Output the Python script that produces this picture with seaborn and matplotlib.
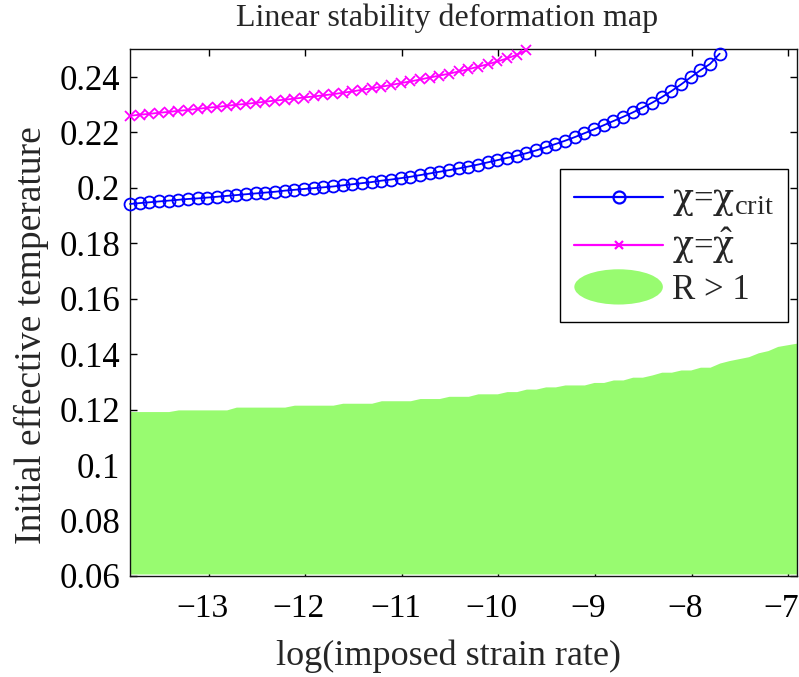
import numpy as np
import matplotlib
matplotlib.use("Agg")
import matplotlib.pyplot as plt
import matplotlib._mathtext as mathtext_core
import matplotlib.transforms as mtransforms
import seaborn as sns
from matplotlib.lines import Line2D
from matplotlib.patches import Patch, Ellipse
from matplotlib.legend_handler import HandlerPatch
from matplotlib.ticker import FuncFormatter

# strain-rate grid: natural log of imposed strain rate, 1e-6 .. 1e-3, 70 samples
log_rate = np.log(np.logspace(-6, -3, 70))

# chi = chi_crit (shown up to where it leaves the window)
chi_crit = [
    0.1942, 0.1945, 0.1948, 0.1951, 0.1954, 0.1957, 0.1960, 0.1962, 0.1965, 0.1968,
    0.1971, 0.1974, 0.1977, 0.1980, 0.1983, 0.1986, 0.1990, 0.1993, 0.1996, 0.1999,
    0.2002, 0.2005, 0.2009, 0.2013, 0.2017, 0.2021, 0.2026, 0.2030, 0.2035, 0.2040,
    0.2046, 0.2052, 0.2058, 0.2064, 0.2070, 0.2077, 0.2084, 0.2092, 0.2100, 0.2108,
    0.2116, 0.2125, 0.2135, 0.2146, 0.2158, 0.2170, 0.2183, 0.2197, 0.2211, 0.2226,
    0.2241, 0.2256, 0.2272, 0.2289, 0.2307, 0.2327, 0.2349, 0.2373, 0.2399, 0.2424,
    0.2447, 0.2484,
]

# chi = chi_hat
chi_hat = [
    0.2260, 0.2264, 0.2267, 0.2271, 0.2274, 0.2278, 0.2281, 0.2285, 0.2289, 0.2292,
    0.2296, 0.2300, 0.2303, 0.2307, 0.2311, 0.2315, 0.2318, 0.2322, 0.2326, 0.2330,
    0.2334, 0.2338, 0.2343, 0.2348, 0.2354, 0.2359, 0.2365, 0.2371, 0.2378, 0.2384,
    0.2391, 0.2398, 0.2405, 0.2412, 0.2420, 0.2428, 0.2437, 0.2446, 0.2456, 0.2467,
    0.2480, 0.2496,
]

# upper edge of the region where R > 1
r_edge = [
    0.1193, 0.1193, 0.1193, 0.1193, 0.1193, 0.1199, 0.1199, 0.1199, 0.1199, 0.1199,
    0.1199, 0.1209, 0.1209, 0.1209, 0.1209, 0.1209, 0.1209, 0.1216, 0.1216, 0.1216,
    0.1216, 0.1216, 0.1223, 0.1223, 0.1223, 0.1223, 0.1232, 0.1232, 0.1232, 0.1232,
    0.1240, 0.1240, 0.1240, 0.1248, 0.1248, 0.1248, 0.1257, 0.1257, 0.1257, 0.1265,
    0.1265, 0.1274, 0.1274, 0.1282, 0.1282, 0.1289, 0.1289, 0.1289, 0.1298, 0.1298,
    0.1307, 0.1307, 0.1317, 0.1317, 0.1325, 0.1335, 0.1335, 0.1343, 0.1343, 0.1353,
    0.1353, 0.1368, 0.1377, 0.1384, 0.1391, 0.1405, 0.1413, 0.1428, 0.1434, 0.1440,
]
r_floor = 0.0607

x_ticks = [-13, -12, -11, -10, -9, -8, -7]
y_ticks = [0.06, 0.08, 0.10, 0.12, 0.14, 0.16, 0.18, 0.20, 0.22, 0.24]

sns.set_style("ticks")
plt.rcParams["font.family"] = ["Liberation Serif", "DejaVu Serif"]
plt.rcParams["mathtext.fontset"] = "custom"
plt.rcParams["mathtext.rm"] = "Liberation Serif"
plt.rcParams["mathtext.it"] = "Liberation Serif:italic"
plt.rcParams["mathtext.sf"] = "DejaVu Serif"
plt.rcParams["xtick.direction"] = "in"
plt.rcParams["ytick.direction"] = "in"
# larger subscripts in the legend labels
mathtext_core.SHRINK_FACTOR = 0.82

GREEN = "#98fb70"

fig = plt.figure(figsize=(7.99, 6.77), dpi=100)
ax = fig.add_axes([0.1627, 0.1493, 0.8348, 0.7779])

ax.fill_between(log_rate, r_floor, r_edge, color=GREEN, linewidth=0, zorder=1)

sns.lineplot(x=log_rate[:len(chi_crit)], y=chi_crit, ax=ax, color="blue",
             marker="o", markersize=8.6, markerfacecolor="none",
             markeredgecolor="blue", markeredgewidth=1.3, linewidth=1.3,
             clip_on=False, zorder=3)
sns.lineplot(x=log_rate[:len(chi_hat)], y=chi_hat, ax=ax, color="magenta",
             marker="x", markersize=6.5, markeredgecolor="magenta",
             markeredgewidth=1.3, linewidth=1.3, clip_on=False, zorder=3)

ax.set_xlim(log_rate[0], log_rate[-1])
ax.set_ylim(0.06, 0.25)
ax.set_xticks(x_ticks)
ax.set_yticks(y_ticks)
ax.xaxis.set_major_formatter(FuncFormatter(lambda v, p: f"{v:g}".replace("-", "\u2212")))
ax.yaxis.set_major_formatter(FuncFormatter(lambda v, p: f"{v:g}"))
ax.tick_params(axis="both", which="both", direction="in", length=5, width=1,
               top=True, right=True, colors="black")
ax.tick_params(axis="x", labelsize=24, pad=13)
ax.tick_params(axis="y", labelsize=25, pad=7)
shift = mtransforms.ScaledTranslation(-0.065, 0, fig.dpi_scale_trans)
for lab in ax.get_xticklabels():
    lab.set_transform(lab.get_transform() + shift)
for side in ax.spines.values():
    side.set_visible(True)
    side.set_linewidth(1.0)
    side.set_color("#111111")

ax.set_title("Linear stability deformation map", fontsize=23, pad=17, x=0.476)
ax.set_xlabel("log(imposed strain rate)", fontsize=26, labelpad=11, x=0.4775)
ax.set_ylabel("Initial effective temperature", fontsize=27)
ax.yaxis.set_label_coords(-0.122, 0.457)


class HandlerEllipse(HandlerPatch):
    def create_artists(self, legend, orig_handle, xdescent, ydescent,
                       width, height, fontsize, trans):
        center = (0.5 * width - xdescent, 0.5 * height - ydescent)
        e = Ellipse(xy=center, width=width, height=height * 1.45)
        self.update_prop(e, orig_handle, legend)
        e.set_transform(trans)
        return [e]


handles = [
    Line2D([], [], color="blue", marker="o", markerfacecolor="none",
           markeredgecolor="blue", markersize=8.6, markeredgewidth=1.6, linewidth=1.6),
    Line2D([], [], color="magenta", marker="x", markeredgecolor="magenta",
           markersize=6, markeredgewidth=1.6, linewidth=1.6),
    Patch(facecolor=GREEN, edgecolor="none"),
]
labels = ["$\\mathsf{χ}$=$\\mathsf{χ}_{\\mathrm{crit}}$",
          "$\\mathsf{χ}$=$\\hat{\\mathsf{χ}}$",
          "R > 1"]
leg = ax.legend(handles, labels, loc="upper right", bbox_to_anchor=(0.9865, 0.772),
                borderaxespad=0, fontsize=25, frameon=True, fancybox=False,
                handlelength=2.55, handletextpad=0.25, labelspacing=0.22,
                borderpad=0.42, handler_map={Patch: HandlerEllipse()})
leg.get_frame().set_edgecolor("black")
leg.get_frame().set_linewidth(1.0)
leg.get_frame().set_alpha(1)

fig.savefig("out.png", dpi=100, facecolor="white")
